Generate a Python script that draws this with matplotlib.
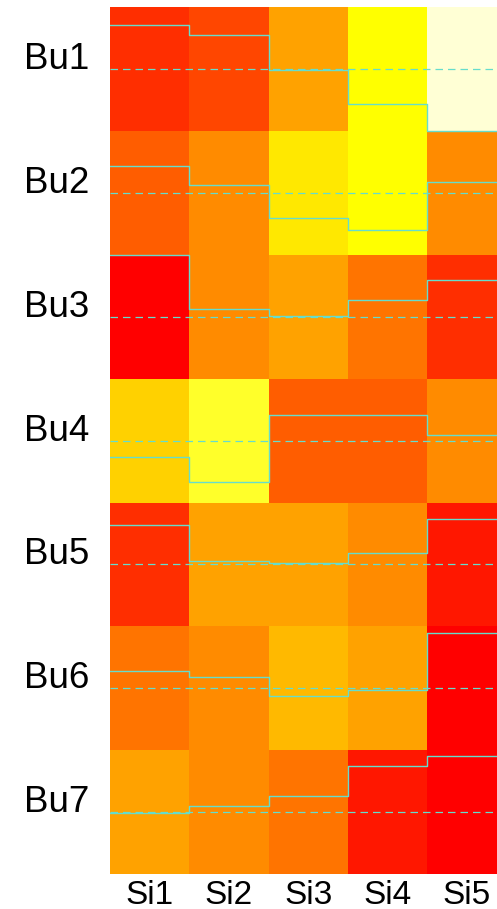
import matplotlib
matplotlib.use("Agg")
import matplotlib.pyplot as plt
from matplotlib.colors import ListedColormap, BoundaryNorm
import numpy as np

rows = ["Bu1", "Bu2", "Bu3", "Bu4", "Bu5", "Bu6", "Bu7"]
cols = ["Si1", "Si2", "Si3", "Si4", "Si5"]

# scaled values (0 = min break, 1 = max break)
bu1 = [0.86, 0.78, 0.49, 0.22, 0.00]
bu2 = [0.72, 0.565, 0.30, 0.205, 0.586]
bu3 = [1.00, 0.567, 0.51, 0.64, 0.80]
bu4 = [0.37, 0.17, 0.704, 0.71, 0.544]
bu5 = [0.82, 0.527, 0.51, 0.594, 0.87]
bu6 = [0.64, 0.59, 0.44, 0.49, 0.95]
bu7 = [0.49, 0.55, 0.63, 0.87, 0.95]
data = np.array([bu1, bu2, bu3, bu4, bu5, bu6, bu7])

# R heat.colors(15), reversed so high = red
heat = ["#FF0000", "#FF1700", "#FF2E00", "#FF4600", "#FF5D00", "#FF7400",
        "#FF8B00", "#FFA200", "#FFB900", "#FFD100", "#FFE800", "#FFFF00",
        "#FFFF2A", "#FFFF80", "#FFFFD5"]
cmap = ListedColormap(heat[::-1])
breaks = np.linspace(0, 1, 16)
norm = BoundaryNorm(breaks, cmap.N)

trace_col = "#66DDCC"

fig = plt.figure(figsize=(4.97, 9.09), dpi=100)
ax = fig.add_axes([110 / 497, 35 / 909, 396.5 / 497, 866.7 / 909])

ax.pcolormesh(np.arange(6), np.arange(8), data, cmap=cmap, norm=norm)

x_edges = np.arange(6)
for i, row in enumerate(data):
    ax.axhline(i + 0.5, color=trace_col, lw=0.9, ls=(0, (6, 4)))
    yv = i + 1 - np.append(row, row[-1])
    ax.step(x_edges, yv, where="post", color=trace_col, lw=1.0)

ax.set_xlim(0, 5)
ax.set_ylim(7, 0)
for s in ax.spines.values():
    s.set_visible(False)

ax.set_xticks(np.arange(5) + 0.5)
ax.set_xticklabels(cols, fontsize=24, family="Liberation Sans")
ax.set_yticks(np.arange(7) + 0.5)
ax.set_yticklabels(rows, fontsize=26.5, family="Liberation Sans")
for lab in ax.get_yticklabels():
    lab.set_verticalalignment("baseline")
ax.tick_params(axis="x", length=0, pad=4)
ax.tick_params(axis="y", length=0, pad=15)

fig.savefig("out.png", dpi=100)
